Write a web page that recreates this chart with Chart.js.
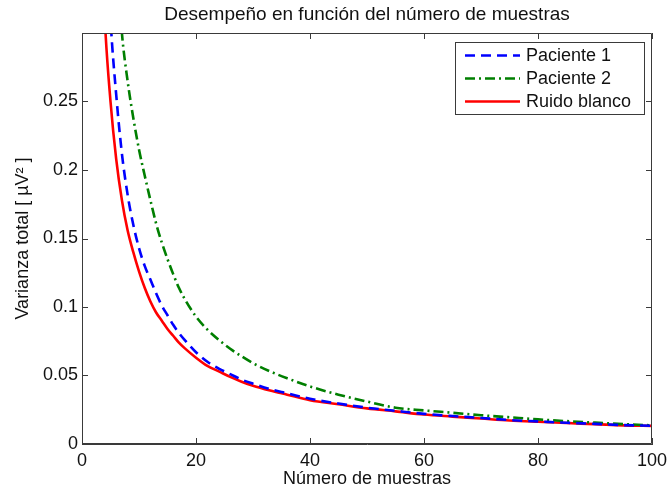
<!DOCTYPE html>
<html>
<head>
<meta charset="utf-8">
<script src="https://cdn.jsdelivr.net/npm/chart.js@4/dist/chart.umd.min.js"></script>
<style>
  html, body { margin: 0; padding: 0; background: #fff; }
  #wrap { width: 668px; height: 489px; position: relative; }
</style>
</head>
<body>
<div id="wrap"><canvas id="c" width="668" height="489"></canvas></div>
<script>
// ---- data ----
const chartTitle = "Desempeño en función del número de muestras";
const xTitle = "Número de muestras";
const yTitle = "Varianza total [ µV² ]";
const seriesNames = ["Paciente 1", "Paciente 2", "Ruido blanco"];
const nMuestras = [3,4,5,6,7,8,9,10,11,12,13,14,15,16,17,18,20,22,24,26,28,30,33,36,40,45,50,55,60,65,70,75,80,85,90,95,100];
const paciente1 = [0.55,0.40,0.31,0.255,0.212,0.182,0.160,0.143,0.130,0.120,0.110,0.101,0.094,0.087,0.081,0.076,0.067,0.060,0.055,0.051,0.047,0.044,0.040,0.037,0.033,0.0295,0.0265,0.0242,0.0220,0.0204,0.0190,0.0175,0.0165,0.0155,0.0147,0.0138,0.0133];
const paciente2 = [0.90,0.60,0.45,0.36,0.30,0.265,0.238,0.215,0.196,0.178,0.161,0.147,0.135,0.124,0.114,0.106,0.093,0.0835,0.076,0.0695,0.064,0.059,0.053,0.048,0.042,0.036,0.031,0.0265,0.0245,0.0228,0.0210,0.0195,0.0180,0.0167,0.0156,0.0145,0.0136];
const ruidoBlanco = [0.42,0.31,0.25,0.208,0.178,0.156,0.140,0.126,0.114,0.104,0.096,0.090,0.084,0.079,0.074,0.070,0.063,0.057,0.053,0.049,0.0455,0.0425,0.039,0.036,0.032,0.029,0.026,0.0238,0.0215,0.0200,0.0186,0.0172,0.0162,0.0153,0.0145,0.0136,0.0132];
const xTicks = [0,20,40,60,80,100];
const yTicks = [0,0.05,0.1,0.15,0.2,0.25];

// ---- styling ----
const FONT = "'Liberation Sans', Arial, Helvetica, sans-serif";
const AXIS = '#3a3a3a';
const TXT = '#111';

function pts(xs, ys) { return xs.map((x, i) => ({x: x, y: ys[i]})); }

const boxAndTicks = {
  id: 'boxAndTicks',
  afterDatasetsDraw(chart) {
    const {ctx, chartArea: a, scales} = chart;
    ctx.save();
    ctx.strokeStyle = AXIS;
    ctx.lineWidth = 1;
    ctx.beginPath();
    ctx.rect(a.left + 0.5, a.top + 0.5, a.right - a.left - 1, a.bottom - a.top - 1);
    ctx.stroke();
    const L = 6;
    ctx.beginPath();
    xTicks.forEach(v => {
      const px = Math.round(scales.x.getPixelForValue(v)) + 0.5;
      ctx.moveTo(px, a.bottom); ctx.lineTo(px, a.bottom - L);
      ctx.moveTo(px, a.top); ctx.lineTo(px, a.top + L);
    });
    yTicks.forEach(v => {
      const py = Math.round(scales.y.getPixelForValue(v)) + 0.5;
      ctx.moveTo(a.left, py); ctx.lineTo(a.left + L, py);
      ctx.moveTo(a.right, py); ctx.lineTo(a.right - L, py);
    });
    ctx.stroke();
    ctx.restore();
  },
  afterDraw(chart) {
    // legend box (north-east, inside axes)
    const {ctx, chartArea: a} = chart;
    const ds = chart.data.datasets;
    const bw = 189, bh = 72;
    const bx = a.right - 8 - bw, by = a.top + 9;
    ctx.save();
    ctx.fillStyle = '#fff';
    ctx.fillRect(bx, by, bw, bh);
    ctx.strokeStyle = AXIS;
    ctx.lineWidth = 1;
    ctx.strokeRect(bx + 0.5, by + 0.5, bw, bh);
    ds.forEach((d, i) => {
      const yy = by + 13.5 + i * 23;
      ctx.beginPath();
      ctx.strokeStyle = d.borderColor;
      ctx.lineWidth = d.borderWidth;
      ctx.setLineDash(d.borderDash || []);
      ctx.moveTo(bx + 10, yy);
      ctx.lineTo(bx + 65, yy);
      ctx.stroke();
      ctx.setLineDash([]);
      ctx.fillStyle = TXT;
      ctx.font = '18px ' + FONT;
      ctx.textBaseline = 'middle';
      ctx.textAlign = 'left';
      ctx.fillText(d.label, bx + 71, yy + 1);
    });
    ctx.restore();
  }
};

new Chart(document.getElementById('c'), {
  type: 'line',
  data: {
    datasets: [
      { label: seriesNames[0], data: pts(nMuestras, paciente1), borderColor: '#0000ff', borderWidth: 2.6, borderDash: [10, 6], pointRadius: 0, fill: false, cubicInterpolationMode: 'monotone' },
      { label: seriesNames[1], data: pts(nMuestras, paciente2), borderColor: '#007f00', borderWidth: 2.6, borderDash: [10, 4, 2, 4], pointRadius: 0, fill: false, cubicInterpolationMode: 'monotone' },
      { label: seriesNames[2], data: pts(nMuestras, ruidoBlanco), borderColor: '#ff0000', borderWidth: 2.6, pointRadius: 0, fill: false, cubicInterpolationMode: 'monotone' }
    ]
  },
  options: {
    responsive: false,
    animation: false,
    devicePixelRatio: 1,
    layout: { padding: { left: 0, right: 16, top: 0, bottom: 0 } },
    plugins: {
      legend: { display: false },
      tooltip: { enabled: false },
      title: {
        display: true, text: chartTitle, color: TXT, fullSize: false,
        font: { family: FONT, size: 19, weight: 'normal' },
        padding: { top: 3.5, bottom: 6.7 }
      }
    },
    scales: {
      x: {
        type: 'linear', min: 0, max: 100,
        afterBuildTicks: s => { s.ticks = xTicks.map(v => ({value: v})); },
        afterFit: s => { s.height = 45; s.paddingLeft = 0; s.paddingRight = 0; },
        grid: { display: true, drawOnChartArea: false, drawTicks: false },
        border: { display: true, color: AXIS, width: 1 },
        ticks: { color: TXT, padding: 6, maxRotation: 0, font: { family: FONT, size: 18 }, callback: v => String(v) },
        title: { display: true, text: xTitle, color: TXT, font: { family: FONT, size: 18 }, padding: { top: 0, bottom: -1 } }
      },
      y: {
        type: 'linear', min: 0, max: 0.3,
        afterBuildTicks: s => { s.ticks = yTicks.map(v => ({value: v})); },
        afterFit: s => { s.width = 82; s.paddingTop = 0; s.paddingBottom = 0; },
        grid: { display: true, drawOnChartArea: false, drawTicks: false },
        border: { display: true, color: AXIS, width: 1 },
        ticks: { color: TXT, padding: 4, font: { family: FONT, size: 18 }, callback: v => String(Number(v.toFixed(2))) },
        title: { display: true, text: yTitle, color: TXT, font: { family: FONT, size: 18 }, padding: { top: 12, bottom: 0 } }
      }
    }
  },
  plugins: [boxAndTicks]
});
</script>
</body>
</html>
